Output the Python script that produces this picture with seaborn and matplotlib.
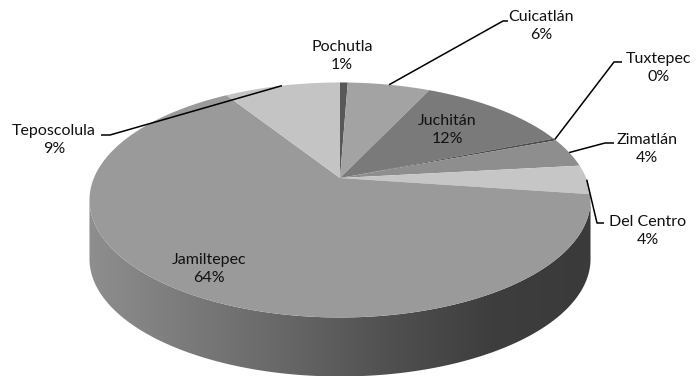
import numpy as np
import matplotlib
matplotlib.use("Agg")
import matplotlib.pyplot as plt
import seaborn as sns
from matplotlib.transforms import Transform
from matplotlib.path import Path
from matplotlib.colors import LinearSegmentedColormap

# ---- data ----
categories = ["Pochutla", "Cuicatlán", "Juchitán", "Tuxtepec", "Zimatlán",
              "Del Centro", "Jamiltepec", "Teposcolula"]
values = [0.6, 6.4, 12, 0.3, 4, 4, 64, 9]
colors = ["#585858", "#a3a3a3", "#7a7a7a", "#4a4a4a", "#8e8e8e",
          "#c6c6c6", "#9a9a9a", "#c4c4c4"]

# ---- layout (pixels) ----
W, H = 697, 379
CX, CY = 340, 178        # projected pie centre
K = 0.187                # perspective factor
SX, SY = 246.1, 113.4
DEPTH = 59

label_pos = {
    "Pochutla": (342, 56), "Cuicatlán": (541, 26), "Tuxtepec": (659, 68),
    "Zimatlán": (647, 149), "Del Centro": (648, 231), "Juchitán": (447, 130),
    "Jamiltepec": (209, 269), "Teposcolula": (54, 140),
}
leader_elbow = {
    "Cuicatlán": [(503, 21), (508, 21)],
    "Tuxtepec": [(614, 62), (622, 62)],
    "Zimatlán": [(605, 143), (614, 143)],
    "Del Centro": [(597, 223), (604, 223)],
    "Teposcolula": [(110, 135), (101, 135)],
}

sns.set_theme(style="white")
plt.rcParams["font.family"] = ["Lato", "DejaVu Sans"]


def proj(x, y):
    d = 1 + K * y
    return CX + SX * x / d, CY - SY * y / d


class Persp(Transform):
    input_dims = output_dims = 2
    is_affine = False
    has_inverse = False

    def transform_non_affine(self, v):
        v = np.asarray(v, float).reshape(-1, 2)
        px, py = proj(v[:, 0], v[:, 1])
        return np.column_stack([px, py])

    def transform_path_non_affine(self, path):
        pts = []
        for seg, code in path.iter_bezier():
            if code == Path.MOVETO:
                pts.append(np.asarray(seg.control_points)[:1])
            else:
                t = np.linspace(0, 1, 30)[1:]
                pts.append(np.asarray(seg(t)).reshape(-1, 2))
        v = np.vstack(pts)
        return Path(self.transform_non_affine(v), closed=True)


fig = plt.figure(figsize=(W / 100, H / 100), dpi=100)
ax = fig.add_axes([0, 0, 1, 1])

wedges, _ = ax.pie(values, colors=colors, startangle=90, counterclock=False,
                   wedgeprops=dict(linewidth=0, edgecolor="none"))
persp = Persp()
for w in wedges:
    w.set_transform(persp + ax.transData)
    w.set_zorder(3)

# side wall of the 3D pie
th = np.linspace(np.pi + np.arcsin(K), 2 * np.pi - np.arcsin(K), 300)
tx, ty = proj(np.cos(th), np.sin(th))
side = np.column_stack([np.concatenate([tx, tx[::-1]]),
                        np.concatenate([ty, ty[::-1] + DEPTH])])
poly = plt.Polygon(side, closed=True, facecolor="none", edgecolor="none")
ax.add_patch(poly)
cmap = LinearSegmentedColormap.from_list(
    "side", ["#8e8e8e", "#7a7a7a", "#666666", "#505050", "#3e3e3e", "#3a3a3a"])
grad = np.linspace(0, 1, 256)[None, :]
im = ax.imshow(grad, extent=(tx.min(), tx.max(), ty.max() + DEPTH, ty.min()),
               cmap=cmap, aspect="auto", zorder=2, interpolation="bilinear")
im.set_clip_path(poly)

ax.set_xlim(0, W)
ax.set_ylim(H, 0)
ax.set_aspect("auto")
ax.axis("off")

total = sum(values)
for w, cat, v in zip(wedges, categories, values):
    pct = f"{round(v / total * 100):d}%"
    x, y = label_pos[cat]
    ax.text(x, y, f"{cat}\n{pct}", ha="center", va="center", fontsize=11.5,
            linespacing=1.3, color="#111111", zorder=5)
    if cat in leader_elbow:
        mid = np.deg2rad((w.theta1 + w.theta2) / 2)
        ax0, ay0 = proj(np.cos(mid), np.sin(mid))
        xs = [ax0] + [p[0] for p in leader_elbow[cat]]
        ys = [ay0] + [p[1] for p in leader_elbow[cat]]
        ax.plot(xs, ys, color="black", linewidth=1.1, zorder=4,
                solid_capstyle="butt")

fig.savefig("out.png", dpi=100, facecolor="white")
